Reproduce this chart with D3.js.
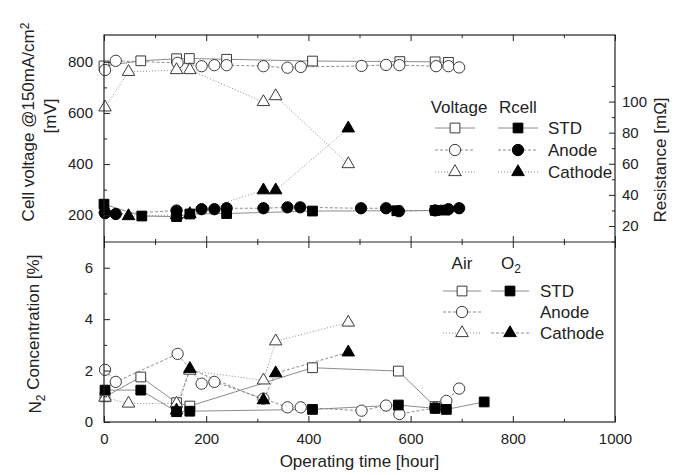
<!DOCTYPE html>
<html>
<head>
<meta charset="utf-8">
<script src="https://cdn.jsdelivr.net/npm/d3@7"></script>
<style>
body { margin: 0; background: #fff; }
text { font-family: "Liberation Sans", Arial, sans-serif; fill: #222; }
</style>
</head>
<body>
<svg id="chart" width="685" height="475"></svg>
<script>
// ---- top panel: cell voltage [mV] (open) and Rcell [mOhm] (filled)
const voltStdHours = [0, 72, 142, 167, 240, 408, 579, 648, 674];
const voltStdValues = [784, 804, 812, 813, 810, 803, 801, 800, 798];
const voltAnodeHours = [2, 23, 144, 191, 216, 240, 312, 359, 385, 504, 552, 578, 650, 674, 695];
const voltAnodeValues = [768, 804, 796, 783, 787, 787, 783, 777, 780, 784, 788, 787, 783, 783, 778];
const voltCathodeHours = [2, 48, 142, 168, 312, 336, 478];
const voltCathodeValues = [622, 761, 768, 768, 643, 666, 400];

const rStdHours = [0, 74, 142, 168, 240, 408, 573, 648, 667];
const rStdValues = [34, 26.4, 26, 27.7, 28, 29.6, 29.8, 30, 30.2];
const rAnodeHours = [2, 23, 142, 191, 216, 240, 312, 359, 384, 503, 552, 577, 648, 674, 695];
const rAnodeValues = [28.2, 27.7, 29.9, 30.8, 30.8, 31.4, 31.4, 32, 32, 31.4, 31.4, 29.5, 30, 30.8, 31.4];
const rCathodeHours = [2, 48, 142, 168, 312, 336, 478];
const rCathodeValues = [31, 26.4, 27, 27.7, 43, 43, 82.8];

// ---- bottom panel: N2 concentration [%], air (open) and O2 (filled)
const airStdHours = [2, 72, 142, 168, 408, 576, 648];
const airStdValues = [0.98, 1.75, 0.75, 0.62, 2.11, 1.98, 0.6];
const airAnodeHours = [2, 23, 144, 191, 216, 312, 359, 385, 504, 552, 578, 648, 670, 695];
const airAnodeValues = [2.03, 1.56, 2.65, 1.49, 1.56, 0.91, 0.57, 0.57, 0.44, 0.64, 0.31, 0.55, 0.82, 1.3];
const airCathodeHours = [2, 48, 142, 168, 312, 336, 478];
const airCathodeValues = [0.95, 0.72, 0.72, 2.0, 1.62, 3.14, 3.87];

const o2StdHours = [2, 72, 142, 168, 408, 576, 648, 670, 744];
const o2StdValues = [1.24, 1.24, 0.4, 0.42, 0.49, 0.66, 0.53, 0.49, 0.78];
const o2CathodeHours = [142, 168, 312, 336, 478];
const o2CathodeValues = [0.45, 2.07, 0.85, 1.9, 2.71];

// ticks
const hourMajor = [0, 200, 400, 600, 800, 1000];
const hourMinor = [100, 300, 500, 700, 900];
const voltMajor = [200, 400, 600, 800];
const voltMinor = [300, 500, 700];
const resMajor = [20, 40, 60, 80, 100];
const resMinor = [10, 30, 50, 70, 90, 110];
const n2Major = [0, 2, 4, 6];
const n2Minor = [1, 3, 5];

const svg = d3.select("#chart");
const plotLeft = 104, plotRight = 615, plotTop = 35, plotMid = 242, plotBottom = 422;

const x = d3.scaleLinear().domain([0, 1000]).range([plotLeft, plotRight]);
const yVolt = d3.scaleLinear().domain([95, 905]).range([plotMid, plotTop]);
const yRes = d3.scaleLinear().domain([9.7, 142.8]).range([plotMid, plotTop]);
const yN2 = d3.scaleLinear().domain([0, 7]).range([plotBottom, plotMid]);

const lineColor = "#8c8c8c";
const dashes = { solid: null, dashed: "3,2", dotted: "1,2" };
const shapes = { square: d3.symbolSquare, circle: d3.symbolCircle, triangle: d3.symbolTriangle };
const sizes = { square: 95, circle: 100, triangle: 68 };

function makeSeries(hours, values, scale, shape, filled, dash) {
    return { pts: hours.map((h, i) => [h, values[i]]), scale, shape, filled, dash };
}

const topSeries = [
    makeSeries(voltStdHours, voltStdValues, yVolt, "square", false, "solid"),
    makeSeries(voltAnodeHours, voltAnodeValues, yVolt, "circle", false, "dashed"),
    makeSeries(voltCathodeHours, voltCathodeValues, yVolt, "triangle", false, "dotted"),
    makeSeries(rStdHours, rStdValues, yRes, "square", true, "solid"),
    makeSeries(rAnodeHours, rAnodeValues, yRes, "circle", true, "dashed"),
    makeSeries(rCathodeHours, rCathodeValues, yRes, "triangle", true, "dotted")
];

const bottomSeries = [
    makeSeries(airStdHours, airStdValues, yN2, "square", false, "solid"),
    makeSeries(airAnodeHours, airAnodeValues, yN2, "circle", false, "dashed"),
    makeSeries(airCathodeHours, airCathodeValues, yN2, "triangle", false, "dotted"),
    makeSeries(o2StdHours, o2StdValues, yN2, "square", true, "solid"),
    makeSeries(o2CathodeHours, o2CathodeValues, yN2, "triangle", true, "dashed")
];

function symbolPath(shape) {
    return d3.symbol().type(shapes[shape]).size(sizes[shape])();
}

function styleMarker(sel, filled) {
    sel.attr("fill", filled ? "#000" : "#fff")
        .attr("stroke", filled ? "#000" : "#3a3a3a")
        .attr("stroke-width", 1);
}

function drawSeries(list) {
    const g = svg.append("g");
    list.forEach(s => {
        g.append("path")
            .datum(s.pts)
            .attr("fill", "none")
            .attr("stroke", lineColor)
            .attr("stroke-width", 1)
            .attr("stroke-dasharray", dashes[s.dash])
            .attr("d", d3.line().x(d => x(d[0])).y(d => s.scale(d[1])));
    });
    // open markers first, filled on top
    list.slice().sort((a, b) => a.filled - b.filled).forEach(s => {
        g.selectAll(null)
            .data(s.pts)
            .join("path")
            .attr("transform", d => `translate(${x(d[0])},${s.scale(d[1])})`)
            .attr("d", symbolPath(s.shape))
            .call(styleMarker, s.filled);
    });
}

drawSeries(topSeries);
drawSeries(bottomSeries);

// axes (ticks point inward)
function addAxis(axisFn, scale, tx, ty, major, minor, labels, pad) {
    const g1 = svg.append("g").attr("transform", `translate(${tx},${ty})`)
        .call(axisFn(scale).tickValues(major).tickSize(-6).tickPadding(pad || 8)
            .tickFormat(labels ? d3.format("d") : ""));
    const g2 = svg.append("g").attr("transform", `translate(${tx},${ty})`)
        .call(axisFn(scale).tickValues(minor).tickSize(-3).tickFormat(""));
    [g1, g2].forEach(g => {
        g.attr("font-size", null).attr("font-family", null);
        g.select(".domain").remove();
        g.selectAll("line").attr("stroke", "#222");
        g.selectAll("text").attr("font-size", 15).attr("fill", "#222");
    });
}

addAxis(d3.axisBottom, x, 0, plotBottom, hourMajor, hourMinor, true, 11);
addAxis(d3.axisTop, x, 0, plotMid, hourMajor, hourMinor, false);
addAxis(d3.axisBottom, x, 0, plotMid, hourMajor, hourMinor, false);
addAxis(d3.axisTop, x, 0, plotTop, hourMajor, hourMinor, false);
addAxis(d3.axisLeft, yVolt, plotLeft, 0, voltMajor, voltMinor, true, 11);
addAxis(d3.axisRight, yRes, plotRight, 0, resMajor, resMinor, true, 7);
addAxis(d3.axisLeft, yN2, plotLeft, 0, n2Major, n2Minor, true, 11);

// frames
svg.append("rect").attr("x", plotLeft).attr("y", plotTop)
    .attr("width", plotRight - plotLeft).attr("height", plotBottom - plotTop)
    .attr("fill", "none").attr("stroke", "#222").attr("stroke-width", 1.2);
svg.append("line").attr("x1", plotLeft).attr("x2", plotRight).attr("y1", plotMid).attr("y2", plotMid)
    .attr("stroke", "#222").attr("stroke-width", 1.2);

// axis titles
const t1 = svg.append("text").attr("transform", "translate(28,122) rotate(-90)")
    .attr("text-anchor", "middle").attr("dy", "0.35em").attr("font-size", 17);
t1.append("tspan").text("Cell voltage @150mA/cm");
t1.append("tspan").attr("dy", "-0.45em").attr("font-size", 12).text("2");
svg.append("text").attr("transform", "translate(50,116) rotate(-90)")
    .attr("text-anchor", "middle").attr("dy", "0.35em").attr("font-size", 17).text("[mV]");

const t2 = svg.append("text").attr("transform", "translate(35,334) rotate(-90)")
    .attr("text-anchor", "middle").attr("dy", "0.35em").attr("font-size", 17);
t2.append("tspan").text("N");
t2.append("tspan").attr("dy", "0.35em").attr("font-size", 12).text("2");
t2.append("tspan").attr("dy", "-0.35em").text(" Concentration [%]");

svg.append("text").attr("transform", "translate(660,160) rotate(-90)")
    .attr("text-anchor", "middle").attr("dy", "0.35em").attr("font-size", 17).text("Resistance [m\u03A9]");

svg.append("text").attr("x", (plotLeft + plotRight) / 2).attr("y", 467)
    .attr("text-anchor", "middle").attr("font-size", 17).text("Operating time [hour]");

// legends
function legendItem(cx, cy, half, shape, filled, dash) {
    svg.append("line").attr("x1", cx - half).attr("x2", cx + half).attr("y1", cy).attr("y2", cy)
        .attr("stroke", lineColor).attr("stroke-dasharray", dashes[dash]);
    svg.append("path").attr("transform", `translate(${cx},${cy})`)
        .attr("d", symbolPath(shape)).call(styleMarker, filled);
}

const legendNames = ["STD", "Anode", "Cathode"];
const legendShapes = ["square", "circle", "triangle"];
const legendDashes = ["solid", "dashed", "dotted"];

svg.append("text").attr("x", 459).attr("y", 107).attr("dy", "0.35em")
    .attr("text-anchor", "middle").attr("font-size", 17).text("Voltage");
svg.append("text").attr("x", 518).attr("y", 107).attr("dy", "0.35em")
    .attr("text-anchor", "middle").attr("font-size", 17).text("Rcell");
legendNames.forEach((name, i) => {
    const cy = 128 + i * 22;
    legendItem(455, cy, 20, legendShapes[i], false, legendDashes[i]);
    legendItem(518, cy, 20, legendShapes[i], true, legendDashes[i]);
    svg.append("text").attr("x", 548).attr("y", cy).attr("dy", "0.35em")
        .attr("font-size", 17).text(name);
});

svg.append("text").attr("x", 462).attr("y", 263).attr("dy", "0.35em")
    .attr("text-anchor", "middle").attr("font-size", 17).text("Air");
const o2 = svg.append("text").attr("x", 501).attr("y", 263).attr("dy", "0.35em")
    .attr("font-size", 17);
o2.append("tspan").text("O");
o2.append("tspan").attr("dy", "0.35em").attr("font-size", 12).text("2");
legendNames.forEach((name, i) => {
    const cy = 291 + i * 21;
    legendItem(462, cy, 19, legendShapes[i], false, legendDashes[i]);
    if (name !== "Anode") legendItem(510, cy, 19, legendShapes[i], true, i === 2 ? "dashed" : "solid");
    svg.append("text").attr("x", 540).attr("y", cy).attr("dy", "0.35em")
        .attr("font-size", 17).text(name);
});
</script>
</body>
</html>
